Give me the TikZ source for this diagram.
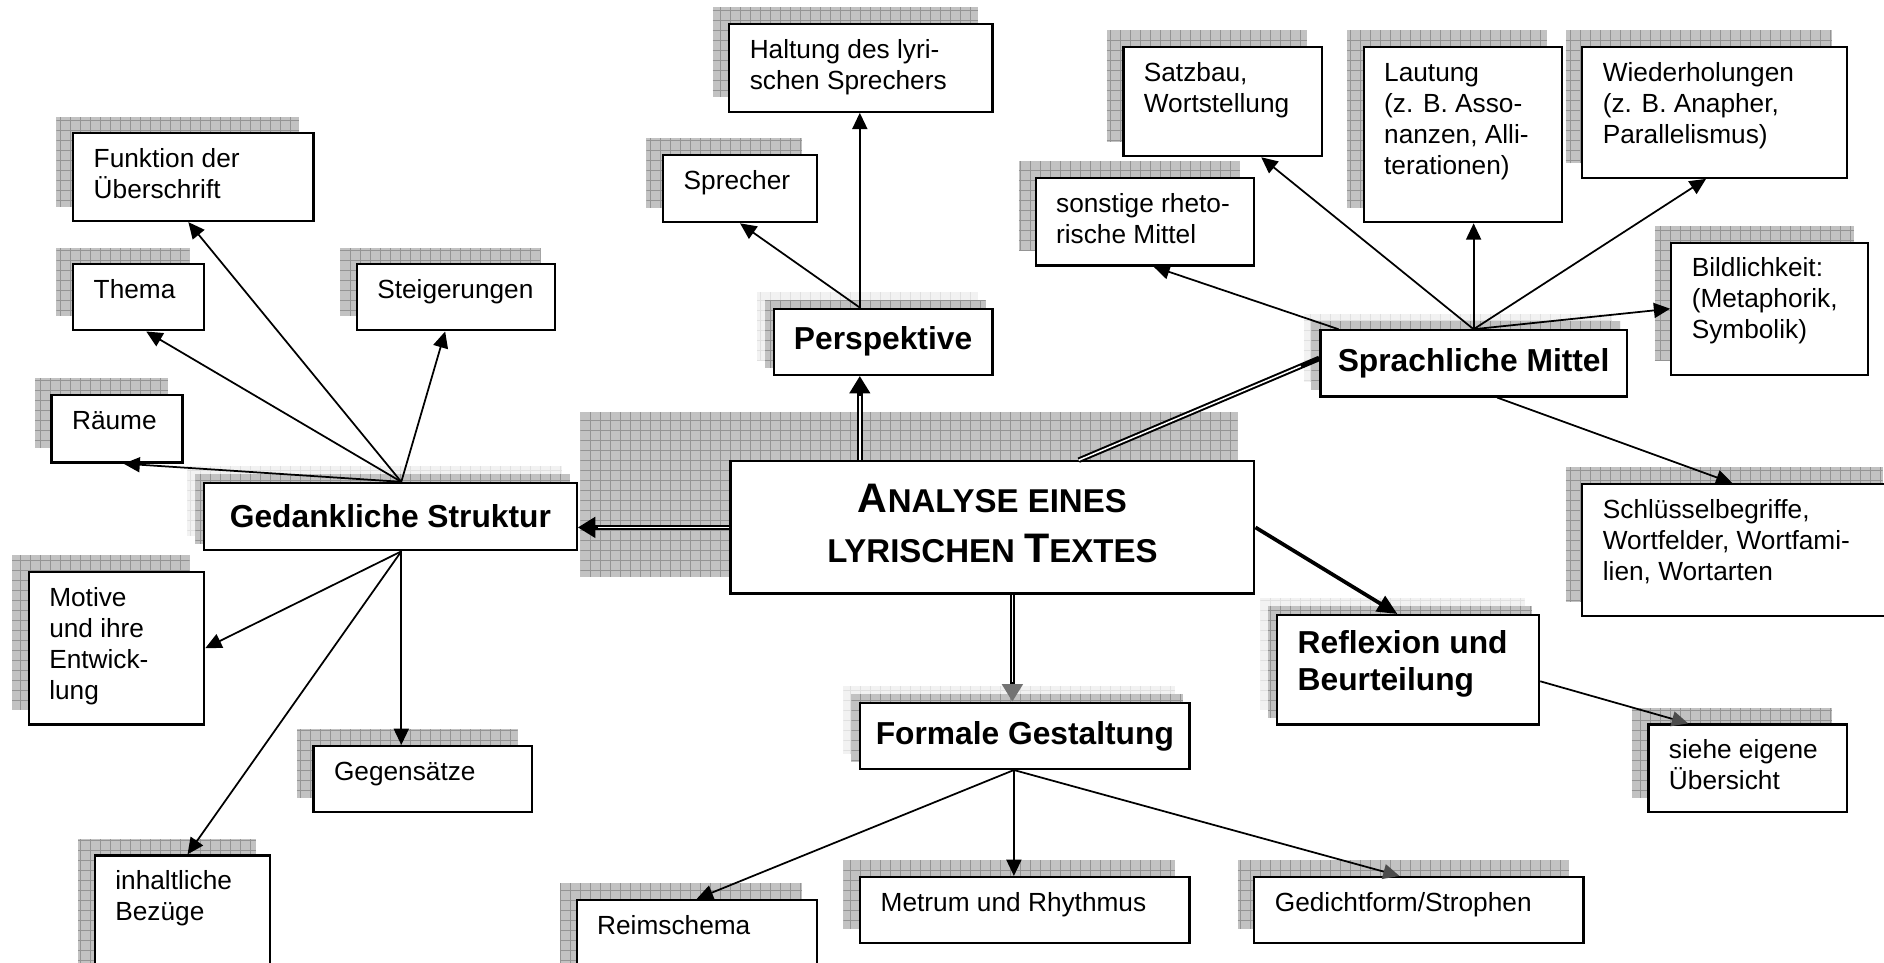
\documentclass[tikz,border=0pt]{standalone}
\usepackage{fontspec}
\setmainfont{Liberation Sans}
\usetikzlibrary{arrows.meta,calc}

\newdimen\ux \ux=0.4806pt
% text box: width, height (in px), text at the top
\newcommand{\tb}[3]{\parbox[t][#2\ux][t]{\dimexpr#1\ux-16.4pt\relax}{\raggedright\hyphenpenalty=10000\rule{0pt}{13.7pt}#3}}
\newcommand{\capbig}[1]{{\fontsize{16.5}{20}\selectfont#1}}

\pgfdeclarelayer{bg}
\pgfsetlayers{bg,main}

\tikzset{
	box/.style={draw, fill=white, line width=0.9pt, anchor=north west, inner xsep=8.2pt, inner ysep=0pt, font=\fontsize{10.5}{12.4}\selectfont},
	hd/.style={box, inner sep=0pt, align=center, font=\fontsize{12.7}{15}\selectfont\bfseries},
	shd/.style={fill=black!24, path picture={\draw[black!42, line width=0.35pt, step=4pt] (path picture bounding box.south west) grid (path picture bounding box.north east);}},
	shdl/.style={fill=black!5, path picture={\draw[black!12, line width=0.35pt, step=4pt] (path picture bounding box.south west) grid (path picture bounding box.north east);}},
	arr/.style={draw, line width=0.7pt, -{Triangle[length=6.5pt,width=6pt]}},
	dbl/.style={draw, line width=2.2pt, postaction={draw, white, line width=0.6pt, shorten >=8pt, -}},
}

\begin{document}
\begin{tikzpicture}[x=0.4806pt, y=-0.4806pt]
		\useasboundingbox (0,0) rectangle (1568,801);
		%the title in the middle
		\node[box, inner xsep=0pt, font=\bfseries] (ce) at (607,383) {\parbox[t][110\ux][t]{436\ux}{\centering\fontsize{13.2}{20}\selectfont\rule{0pt}{20.6pt}\capbig{A}NALYSE EINES\\LYRISCHEN \capbig{T}EXTES}};
		%put the main topics round it
		\node[hd, minimum width=182*\ux, minimum height=55*\ux] (per) at (643,256) {Perspektive};
		\node[hd, minimum width=310*\ux, minimum height=56*\ux] (gs) at (169,401) {Gedankliche Struktur};
		\node[hd, minimum width=274*\ux, minimum height=55*\ux] (fg) at (715,584) {Formale Gestaltung};
		\node[hd, minimum width=255*\ux, minimum height=55*\ux] (sm) at (1098,274) {Sprachliche Mittel};
		\node[box, font=\fontsize{12.7}{14.7}\selectfont\bfseries] (rb) at (1062,511) {\parbox[t][91\ux][t]{\dimexpr218\ux-16.4pt}{\rule{0pt}{15.4pt}Reflexion und\\Beurteilung}};
		%Perspektive
		\node[box] (ha) at (606,19) {\tb{219}{73}{Haltung des lyri-\\schen Sprechers}};
		\node[box] (sp) at (551,128) {\tb{128}{56}{Sprecher}};
		%Gedankliche Struktur
		\node[box] (fu) at (60,110) {\tb{200}{73}{Funktion der\\Überschrift}};
		\node[box] (th) at (60,219) {\tb{109}{55}{Thema}};
		\node[box] (st) at (296,219) {\tb{165}{55}{Steigerungen}};
		\node[box] (rm) at (42,328) {\tb{109}{56}{Räume}};
		\node[box] (mo) at (23,475) {\tb{146}{127}{Motive\\und ihre\\Entwick-\\lung}};
		\node[box] (ge) at (260,620) {\tb{182}{55}{Gegensätze}};
		\node[box] (ib) at (78,711) {\tb{146}{110}{inhaltliche\\Bezüge}};
		%Formale Gestaltung
		\node[box] (rs) at (479,748) {\tb{200}{70}{Reimschema}};
		\node[box] (me) at (715,729) {\tb{274}{55}{Metrum und Rhythmus}};
		\node[box] (gd) at (1043,729) {\tb{274}{55}{Gedichtform/Strophen}};
		%Reflexion
		\node[box] (se) at (1371,602) {\tb{165}{73}{siehe eigene\\Übersicht}};
		%Sprachliche Mittel
		\node[box] (sb) at (1316,402) {\tb{262}{110}{Schlüsselbegriffe,\\Wortfelder, Wortfami-\\lien, Wortarten}};
		\node[box] (so) at (861,147) {\tb{182}{73}{sonstige rheto-\\rische Mittel}};
		\node[box] (sa) at (934,38) {\tb{165}{91}{Satzbau,\\Wortstellung}};
		\node[box] (la) at (1134,38) {\tb{165}{146}{Lautung\\(z. B. Asso-\\nanzen, Alli-\\terationen)}};
		\node[box] (wi) at (1316,38) {\tb{220}{109}{Wiederholungen\\(z. B. Anapher,\\Parallelismus)}};
		\node[box] (bi) at (1390,201) {\tb{164}{110}{Bildlichkeit:\\(Metaphorik,\\Symbolik)}};
		%shadows behind the boxes
		\begin{pgfonlayer}{bg}
			\foreach \n in {ha,sp,fu,th,st,rm,mo,ge,ib,rs,me,gd,se,sb,so,sa,la,wi,bi}
				\path[shd] ([shift={(-13,-13)}]\n.north west) rectangle ([shift={(-13,-13)}]\n.south east);
			\foreach \n in {per,gs,fg,sm,rb}{
				\path[shdl] ([shift={(-13,-13)}]\n.north west) rectangle ([shift={(-13,-13)}]\n.south east);
				\path[shd] ([shift={(-6.5,-6.5)}]\n.north west) rectangle ([shift={(-6.5,-6.5)}]\n.south east);
			}
			\path[shd] (483,343) rectangle (1030,480);
		\end{pgfonlayer}
		%from the title to the main topics
		\coordinate (pp) at ($(ce.north west)!.248!(ce.north east)$);
		\coordinate (cm) at ($(ce.north west)!.664!(ce.north east)$);
		\coordinate (cf) at ($(ce.south west)!.538!(ce.south east)$);
		\draw[dbl, -{Triangle[length=7pt,width=8pt]}] (pp) -- (pp |- per.south);
		\draw[dbl, -{Triangle[length=7pt,width=8pt]}] (ce.west) -- (ce.west -| gs.east);
		\draw[dbl] (cm) -- ([yshift=2pt]sm.west);
		\draw[dbl, -{Triangle[length=7pt,width=8pt,color=black!55]}] (cf) -- (cf |- fg.north);
		\draw[line width=1.5pt, -{Triangle[length=8pt,width=7pt]}] (ce.east) -- ([xshift=-4.3pt]rb.north);
		%Perspektive
		\draw[arr] (pp |- per.north) -- (pp |- ha.south);
		\draw[arr] (pp |- per.north) -- (sp.south);
		%Gedankliche Struktur
		\coordinate (gsT) at ($(gs.north west)!.529!(gs.north east)$);
		\coordinate (gsB) at ($(gs.south west)!.529!(gs.south east)$);
		\foreach \t/\s in {fu/-2pt,th/3pt,st/-4.3pt,rm/2.6pt}
			\draw[arr] (gsT) -- ([xshift=\s]\t.south);
		\draw[arr] (gsB) -- (mo.east);
		\draw[arr] (gsB) -- (gsB |- ge.north);
		\draw[arr] (gsB) -- ([xshift=2pt]ib.north);
		%Formale Gestaltung
		\coordinate (fgB) at ($(fg.south west)!.467!(fg.south east)$);
		\draw[arr] (fgB) -- (rs.north);
		\draw[arr] (fgB) -- (fgB |- me.north);
		\draw[arr, -{Triangle[length=6.5pt,width=6pt,color=black!70]}] (fgB) -- ([xshift=-7.8pt]gd.north);
		%Sprachliche Mittel
		\draw[arr] ([xshift=7.7pt]sm.north west) -- ([xshift=3.4pt]so.south);
		\draw[arr] (sm.north) -- ([xshift=15.5pt]sa.south);
		\draw[arr] (sm.north) -- (sm.north |- la.south);
		\draw[arr] (sm.north) -- ([xshift=-3.4pt]wi.south);
		\draw[arr] (sm.north) -- (bi.west);
		\draw[arr] ([xshift=9.4pt]sm.south) -- ([xshift=-3pt]sb.north);
		%Reflexion
		\draw[arr, -{Triangle[length=6.5pt,width=6pt,color=black!70]}] ([yshift=-4.6pt]rb.east) -- ([xshift=-23.8pt]se.north);
\end{tikzpicture}
\end{document}
